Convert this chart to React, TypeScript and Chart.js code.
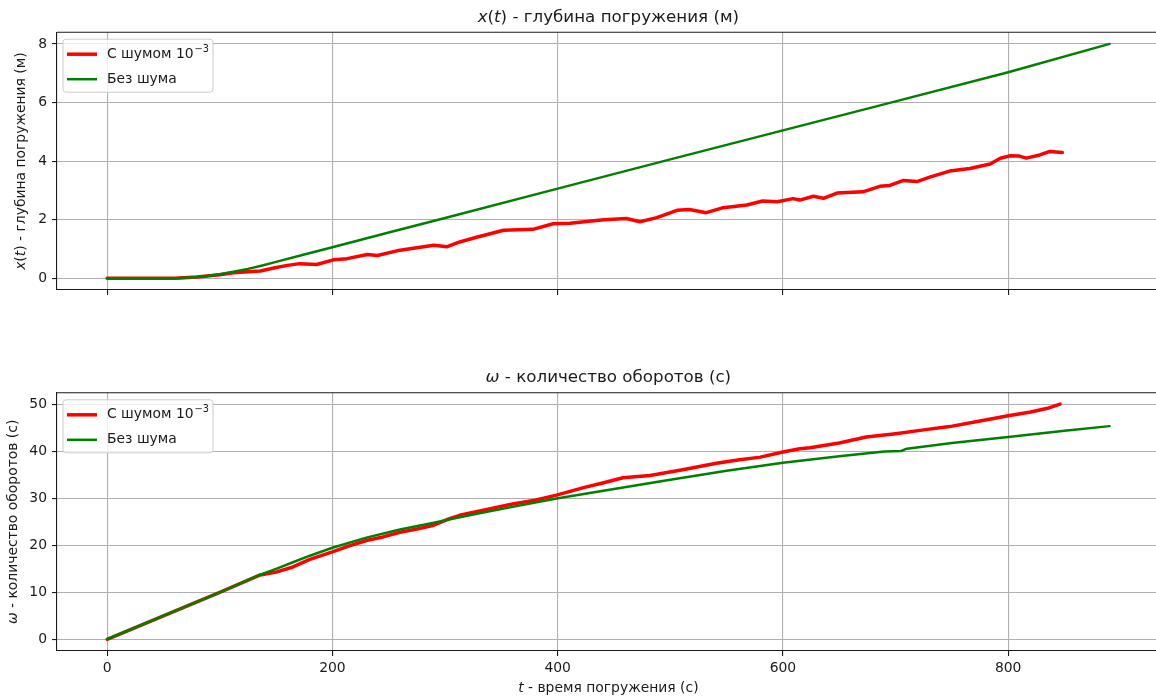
import React, { useEffect, useRef } from 'react';
import { Chart, registerables } from 'chart.js';

Chart.register(...registerables);

const FONT = '"DejaVu Sans", sans-serif';
const TEXT = '#1a1a1a';

const X_MIN = -44.5;
const X_MAX = 934.5;
const xTicks = [0, 200, 400, 600, 800];
const depthTicks = [0, 2, 4, 6, 8];
const omegaTicks = [0, 10, 20, 30, 40, 50];

// x(t) with noise
const tDepthNoise = [0, 30, 60, 80, 100, 112, 125, 136, 148, 160, 171, 186, 201, 213, 231, 240, 260, 290, 302, 313, 328, 352, 378, 396, 411, 441, 461, 473, 488, 506, 517, 532, 547, 568, 582, 595, 609, 615, 627, 636, 648, 671, 686, 695, 707, 719, 731, 748, 766, 784, 793, 802, 810, 816, 828, 837, 848];
const depthNoise = [0, 0, 0, 0.04, 0.12, 0.19, 0.22, 0.25, 0.35, 0.44, 0.5, 0.47, 0.63, 0.67, 0.81, 0.78, 0.96, 1.13, 1.08, 1.24, 1.4, 1.64, 1.67, 1.86, 1.88, 2.0, 2.04, 1.93, 2.07, 2.32, 2.35, 2.24, 2.41, 2.5, 2.64, 2.61, 2.72, 2.67, 2.8, 2.73, 2.91, 2.95, 3.14, 3.17, 3.34, 3.3, 3.46, 3.66, 3.75, 3.9, 4.1, 4.18, 4.17, 4.1, 4.21, 4.33, 4.29];
// x(t) without noise
const tDepthClean = [0, 40, 62, 75, 90, 100, 112, 125, 137, 150, 175, 200, 250, 300, 400, 500, 600, 700, 800, 890];
const depthClean = [0, 0, 0, 0.03, 0.09, 0.14, 0.22, 0.32, 0.43, 0.56, 0.81, 1.06, 1.56, 2.06, 3.06, 4.06, 5.05, 6.04, 7.03, 8.0];

// omega with noise
const tOmegaNoise = [0, 50, 100, 136, 150, 165, 180, 200, 215, 231, 245, 260, 275, 290, 304, 313, 334, 360, 380, 399, 423, 440, 458, 482, 511, 541, 560, 580, 600, 615, 624, 650, 674, 700, 725, 748, 775, 800, 820, 835, 846];
const omegaNoise = [0, 5, 10, 13.7, 14.3, 15.4, 17.0, 18.6, 19.9, 21.1, 21.8, 22.8, 23.5, 24.3, 25.7, 26.4, 27.5, 28.8, 29.6, 30.7, 32.3, 33.3, 34.4, 34.9, 36.1, 37.5, 38.2, 38.8, 39.9, 40.6, 40.8, 41.8, 43.1, 43.8, 44.6, 45.3, 46.5, 47.6, 48.4, 49.2, 50.1];
// omega without noise
const tOmegaClean = [0, 100, 136, 150, 165, 180, 200, 231, 260, 290, 313, 334, 360, 399, 450, 500, 550, 600, 650, 690, 705, 710, 750, 800, 850, 890];
const omegaClean = [0, 10, 13.75, 15.0, 16.4, 17.8, 19.5, 21.7, 23.4, 24.8, 26.0, 27.0, 28.2, 30.0, 32.0, 34.0, 35.9, 37.6, 39.0, 40.0, 40.1, 40.6, 41.8, 43.1, 44.4, 45.4];

const legendNoise = 'С шумом 10';
const legendNoiseExp = '−3';
const legendClean = 'Без шума';

type Seg = { t: string; i?: boolean };

const titleDepth: Seg[] = [{ t: 'x', i: true }, { t: '(' }, { t: 't', i: true }, { t: ')' }, { t: ' - глубина погружения (м)' }];
const titleOmega: Seg[] = [{ t: 'ω', i: true }, { t: ' - количество оборотов (с)' }];
const labelTime: Seg[] = [{ t: 't', i: true }, { t: ' - время погружения (с)' }];

function drawRich(ctx: CanvasRenderingContext2D, segs: Seg[], x: number, y: number, size: number, rotate = false) {
  ctx.save();
  let total = 0;
  const widths = segs.map((s) => {
    ctx.font = `${s.i ? 'italic ' : ''}${size}px ${FONT}`;
    const w = ctx.measureText(s.t).width;
    total += w;
    return w;
  });
  ctx.translate(x, y);
  if (rotate) ctx.rotate(-Math.PI / 2);
  ctx.fillStyle = TEXT;
  ctx.textBaseline = 'middle';
  ctx.textAlign = 'left';
  let cx = -total / 2;
  segs.forEach((s, k) => {
    ctx.font = `${s.i ? 'italic ' : ''}${size}px ${FONT}`;
    ctx.fillText(s.t, cx, 0);
    cx += widths[k];
  });
  ctx.restore();
}

function drawLegend(ctx: CanvasRenderingContext2D, area: { left: number; top: number }) {
  const bx = area.left + 6;
  const by = area.top + 7;
  const bw = 150;
  const bh = 53;
  ctx.save();
  ctx.beginPath();
  const r = 3;
  ctx.moveTo(bx + r, by);
  ctx.lineTo(bx + bw - r, by);
  ctx.quadraticCurveTo(bx + bw, by, bx + bw, by + r);
  ctx.lineTo(bx + bw, by + bh - r);
  ctx.quadraticCurveTo(bx + bw, by + bh, bx + bw - r, by + bh);
  ctx.lineTo(bx + r, by + bh);
  ctx.quadraticCurveTo(bx, by + bh, bx, by + bh - r);
  ctx.lineTo(bx, by + r);
  ctx.quadraticCurveTo(bx, by, bx + r, by);
  ctx.closePath();
  ctx.fillStyle = 'rgba(255,255,255,0.8)';
  ctx.fill();
  ctx.strokeStyle = '#cccccc';
  ctx.lineWidth = 1;
  ctx.stroke();

  const rows = [
    { y: by + 15, color: '#ff0000', w: 3.5, label: legendNoise, exp: legendNoiseExp },
    { y: by + 40, color: '#008000', w: 2.5, label: legendClean, exp: '' },
  ];
  rows.forEach((row) => {
    ctx.beginPath();
    ctx.strokeStyle = row.color;
    ctx.lineWidth = row.w;
    ctx.moveTo(bx + 4, row.y);
    ctx.lineTo(bx + 34, row.y);
    ctx.stroke();
    ctx.fillStyle = TEXT;
    ctx.textAlign = 'left';
    ctx.textBaseline = 'middle';
    ctx.font = `13.9px ${FONT}`;
    ctx.fillText(row.label, bx + 44, row.y);
    if (row.exp) {
      const w = ctx.measureText(row.label).width;
      ctx.font = `9.8px ${FONT}`;
      ctx.fillText(row.exp, bx + 44 + w + 1, row.y - 5);
    }
  });
  ctx.restore();
}

function makeChart(
  canvas: HTMLCanvasElement,
  opts: {
    tNoise: number[];
    vNoise: number[];
    tClean: number[];
    vClean: number[];
    yMin: number;
    yMax: number;
    yTicks: number[];
    showXLabels: boolean;
    xAxisHeight: number;
    padTop: number;
    title: Seg[];
    titleY: number;
    yLabel: Seg[];
    yLabelX: number;
    xLabel?: Seg[];
    xLabelY?: number;
  }
) {
  const overlay = {
    id: 'overlay',
    afterDraw(chart: any) {
      const ctx = chart.ctx as CanvasRenderingContext2D;
      const a = chart.chartArea;
      ctx.save();
      ctx.strokeStyle = '#1a1a1a';
      ctx.lineWidth = 1.1;
      ctx.beginPath();
      ctx.moveTo(a.left, a.top);
      ctx.lineTo(a.right + 20, a.top);
      ctx.stroke();
      ctx.restore();
      drawLegend(ctx, a);
      drawRich(ctx, opts.title, (a.left + a.right) / 2, opts.titleY, 16.7);
      drawRich(ctx, opts.yLabel, opts.yLabelX, (a.top + a.bottom) / 2, 13.9, true);
      if (opts.xLabel && opts.xLabelY !== undefined) {
        drawRich(ctx, opts.xLabel, (a.left + a.right) / 2, opts.xLabelY, 13.9);
      }
    },
  };

  return new Chart(canvas, {
    type: 'line',
    data: {
      datasets: [
        {
          label: legendNoise + legendNoiseExp,
          data: opts.tNoise.map((t, i) => ({ x: t, y: opts.vNoise[i] })),
          borderColor: '#ff0000',
          backgroundColor: '#ff0000',
          borderWidth: 3.5,
          pointRadius: 0,
          tension: 0,
          order: 2,
          borderJoinStyle: 'round',
          borderCapStyle: 'round',
        },
        {
          label: legendClean,
          data: opts.tClean.map((t, i) => ({ x: t, y: opts.vClean[i] })),
          borderColor: '#008000',
          backgroundColor: '#008000',
          borderWidth: 2.5,
          pointRadius: 0,
          tension: 0,
          order: 1,
          borderJoinStyle: 'round',
          borderCapStyle: 'round',
        },
      ],
    },
    options: {
      animation: false,
      responsive: false,
      maintainAspectRatio: false,
      layout: { padding: { top: opts.padTop, right: 10.3, left: 0, bottom: 0 } },
      plugins: { legend: { display: false }, tooltip: { enabled: false }, title: { display: false } },
      events: [],
      scales: {
        x: {
          type: 'linear',
          min: X_MIN,
          max: X_MAX,
          afterBuildTicks: (s: any) => {
            s.ticks = xTicks.map((v) => ({ value: v }));
          },
          afterFit: (s: any) => {
            s.height = opts.xAxisHeight;
          },
          grid: { color: '#b0b0b0', lineWidth: 1.1, tickLength: 5, tickColor: '#1a1a1a', drawTicks: true },
          border: { color: '#1a1a1a', width: 1.1 },
          ticks: {
            display: opts.showXLabels,
            color: TEXT,
            font: { family: FONT, size: 13.9 },
            padding: 4,
            maxRotation: 0,
            autoSkip: false,
          },
        },
        y: {
          type: 'linear',
          min: opts.yMin,
          max: opts.yMax,
          afterBuildTicks: (s: any) => {
            s.ticks = opts.yTicks.map((v) => ({ value: v }));
          },
          afterFit: (s: any) => {
            s.width = 57;
          },
          grid: { color: '#b0b0b0', lineWidth: 1.1, tickLength: 5, tickColor: '#1a1a1a', drawTicks: true },
          border: { color: '#1a1a1a', width: 1.1 },
          ticks: {
            color: TEXT,
            font: { family: FONT, size: 13.9 },
            padding: 5,
            autoSkip: false,
          },
        },
      },
    } as any,
    plugins: [overlay],
  });
}

export default function App() {
  const topRef = useRef<HTMLCanvasElement>(null);
  const botRef = useRef<HTMLCanvasElement>(null);

  useEffect(() => {
    const c1 = makeChart(topRef.current!, {
      tNoise: tDepthNoise,
      vNoise: depthNoise,
      tClean: tDepthClean,
      vClean: depthClean,
      yMin: -0.4,
      yMax: 8.4,
      yTicks: depthTicks,
      showXLabels: false,
      xAxisHeight: 40,
      padTop: 32.2,
      title: titleDepth,
      titleY: 18,
      yLabel: titleDepth,
      yLabelX: 21,
    });
    const c2 = makeChart(botRef.current!, {
      tNoise: tOmegaNoise,
      vNoise: omegaNoise,
      tClean: tOmegaClean,
      vClean: omegaClean,
      yMin: -2.5,
      yMax: 52.5,
      yTicks: omegaTicks,
      showXLabels: true,
      xAxisHeight: 49,
      padTop: 62.8,
      title: titleOmega,
      titleY: 48,
      yLabel: titleOmega,
      yLabelX: 13,
      xLabel: labelTime,
      xLabelY: 358,
    });
    return () => {
      c1.destroy();
      c2.destroy();
    };
  }, []);

  return (
    <div style={{ position: 'fixed', left: 0, top: 0, width: 1156, height: 700, overflow: 'hidden', background: '#fff' }}>
      <div style={{ position: 'absolute', left: 0, top: 0, width: 1170, height: 330 }}>
        <canvas ref={topRef} width={1170} height={330} style={{ width: 1170, height: 330, display: 'block' }} />
      </div>
      <div style={{ position: 'absolute', left: 0, top: 330, width: 1170, height: 370 }}>
        <canvas ref={botRef} width={1170} height={370} style={{ width: 1170, height: 370, display: 'block' }} />
      </div>
    </div>
  );
}
